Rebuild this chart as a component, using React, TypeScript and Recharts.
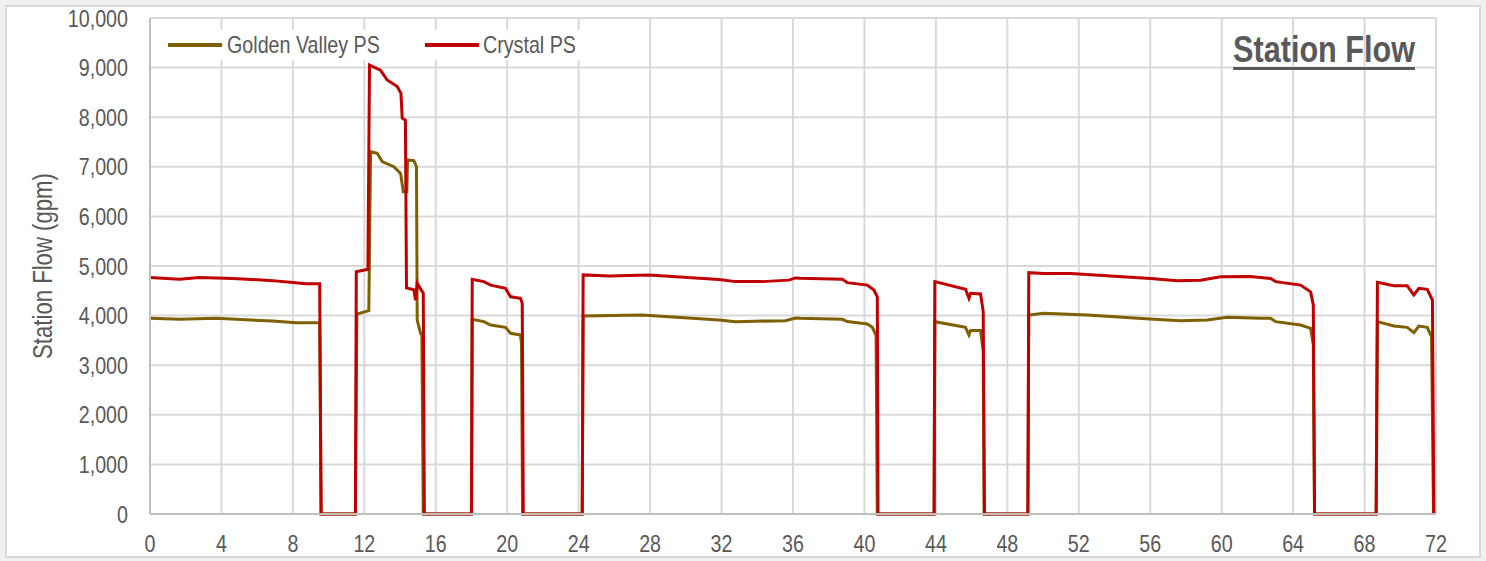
import React from "react";
import { LineChart, Line, XAxis, YAxis, CartesianGrid } from "recharts";

const xTicks = [0, 4, 8, 12, 16, 20, 24, 28, 32, 36, 40, 44, 48, 52, 56, 60, 64, 68, 72];
const yTicks = [0, 1000, 2000, 3000, 4000, 5000, 6000, 7000, 8000, 9000, 10000];

const crystalHours = [
  0, 1.65, 2.77, 4.64, 6.87, 8.0, 8.74, 9.5, 9.58, 11.5,
  11.55, 12.2, 12.29, 12.6, 12.9, 13.28, 13.84, 14.05, 14.12, 14.3, 14.36, 14.77, 14.87, 14.96, 15.3,
  15.36, 18.0,
  18.04, 18.69, 19.07, 19.9, 20.19, 20.74, 20.84,
  20.9, 24.2,
  24.25, 25.69, 27.93, 31.85, 32.78, 34.28, 35.77, 36.14, 36.4, 38.76, 39.04, 40.16, 40.53, 40.72,
  40.76, 43.9,
  43.94, 45.66, 45.85, 45.94, 46.5, 46.65,
  46.72, 49.15,
  49.2, 50.04, 51.54, 56.02, 57.51, 58.82, 59.94, 61.6, 62.74, 63.02, 64.42, 64.98, 65.13,
  65.2, 68.65,
  68.72, 69.64, 70.39, 70.76, 71.04, 71.51, 71.8,
  71.88,
];
const crystalFlow = [
  4770, 4735, 4770, 4750, 4705, 4665, 4640, 4640, 0, 0,
  4885, 4935, 9050, 9000, 8950, 8750, 8620, 8480, 7980, 7940, 4560, 4520, 4310, 4650, 4450,
  0, 0,
  4730, 4685, 4615, 4550, 4380, 4350, 4250,
  0, 0,
  4820, 4800, 4820, 4730, 4685, 4685, 4715, 4760, 4755, 4735, 4665, 4615, 4515, 4380,
  0, 0,
  4685, 4530, 4350, 4450, 4435, 4080,
  0, 0,
  4865, 4850, 4850, 4750, 4705, 4715, 4785, 4790, 4750, 4685, 4615, 4480, 4215,
  0, 0,
  4670, 4600, 4600, 4415, 4550, 4530, 4315,
  0,
];

const goldenHours = [
  0, 1.65, 3.7, 6.87, 8.18, 9.5, 9.58, 11.5,
  11.58, 12.25, 12.35, 12.72, 13.0, 13.65, 14.03, 14.18, 14.38, 14.42, 14.77, 14.92, 14.96, 15.15, 15.22,
  15.3, 18.0,
  18.04, 18.69, 19.07, 19.9, 20.19, 20.74, 20.8,
  20.86, 24.2,
  24.25, 27.56, 31.85, 32.78, 35.58, 36.14, 36.4, 38.76, 39.04, 40.16, 40.44, 40.65,
  40.72, 43.9,
  43.94, 45.66, 45.85, 45.94, 46.5, 46.65,
  46.7, 49.15,
  49.2, 50.04, 52.47, 56.2, 57.7, 59.19, 60.31, 62.18, 62.74, 63.02, 64.42, 64.98, 65.13,
  65.2, 68.65,
  68.72, 69.64, 70.39, 70.76, 71.04, 71.51, 71.75,
  71.86,
];
const goldenFlow = [
  3945, 3925, 3945, 3890, 3858, 3858, 0, 0,
  4030, 4100, 7305, 7272, 7104, 7003, 6868, 6498, 6500, 7137, 7124, 7003, 3911, 3643, 3600,
  0, 0,
  3925, 3878, 3810, 3763, 3643, 3609, 3440,
  0, 0,
  3992, 4012, 3911, 3878, 3898, 3950, 3945, 3925, 3880, 3831, 3763, 3600,
  0, 0,
  3878, 3763, 3609, 3700, 3700, 3273,
  0, 0,
  4012, 4046, 4012, 3925, 3898, 3911, 3965, 3945, 3945, 3878, 3810, 3743, 3408,
  0, 0,
  3878, 3790, 3763, 3655, 3790, 3763, 3575,
  0,
];

const crystalData = crystalHours.map((h, i) => ({ hour: h, flow: crystalFlow[i] }));
const goldenData = goldenHours.map((h, i) => ({ hour: h, flow: goldenFlow[i] }));

const FONT = "'Liberation Sans', Arial, sans-serif";
const TEXT = "#595959";
const OLIVE = "#7F6000";
const RED = "#C00000";
const SQUEEZE = 0.82;

const XTick = (props: any) => {
  const { x, y, payload } = props;
  return (
    <text
      transform={`translate(${x},${y}) scale(${SQUEEZE},1)`}
      x={0}
      y={0}
      dy="0.71em"
      textAnchor="middle"
      fill={TEXT}
      fontSize={24}
      fontFamily={FONT}
    >
      {payload.value}
    </text>
  );
};

const YTick = (props: any) => {
  const { x, y, payload } = props;
  return (
    <text
      transform={`translate(${x},${y}) scale(${SQUEEZE},1)`}
      x={0}
      y={0}
      dy="0.355em"
      textAnchor="end"
      fill={TEXT}
      fontSize={24}
      fontFamily={FONT}
    >
      {Number(payload.value).toLocaleString("en-US")}
    </text>
  );
};

export default function App() {
  return (
    <div style={{ position: "fixed", left: 0, top: 0, width: 1486, height: 561, background: "#f0f0f0", fontFamily: FONT }}>
      <div
        style={{
          position: "absolute",
          left: 5,
          top: 5,
          width: 1476,
          height: 553,
          boxSizing: "border-box",
          border: "2px solid #d9d9d9",
          background: "#ffffff",
        }}
      />
      <div style={{ position: "absolute", left: 0, top: 0 }}>
        <LineChart width={1486} height={561} margin={{ top: 18, right: 50, bottom: 17, left: 0 }}>
          <CartesianGrid stroke="#d9d9d9" strokeWidth={2} />
          <XAxis
            dataKey="hour"
            type="number"
            domain={[0, 72]}
            ticks={xTicks}
            interval={0}
            allowDuplicatedCategory={false}
            stroke="#bfbfbf"
            strokeWidth={2}
            tickLine={false}
            tickSize={6}
            tickMargin={15}
            height={30}
            tick={<XTick />}
          />
          <YAxis
            type="number"
            domain={[0, 10000]}
            ticks={yTicks}
            interval={0}
            width={150}
            stroke="#bfbfbf"
            strokeWidth={2}
            tickLine={false}
            tickSize={6}
            tickMargin={16}
            tick={<YTick />}
          />
          <Line
            data={goldenData}
            dataKey="flow"
            name="Golden Valley PS"
            type="linear"
            stroke={OLIVE}
            strokeWidth={3}
            dot={false}
            activeDot={false}
            isAnimationActive={false}
          />
          <Line
            data={crystalData}
            dataKey="flow"
            name="Crystal PS"
            type="linear"
            stroke={RED}
            strokeWidth={3}
            dot={false}
            activeDot={false}
            isAnimationActive={false}
          />
        </LineChart>
      </div>

      {/* Y axis title */}
      <div
        style={{
          position: "absolute",
          left: 43 - 150,
          top: 266 - 16,
          width: 300,
          height: 32,
          lineHeight: "32px",
          textAlign: "center",
          fontSize: 27,
          color: TEXT,
          fontFamily: FONT,
          whiteSpace: "nowrap",
          transform: `rotate(-90deg) scale(${SQUEEZE},1)`,
          transformOrigin: "50% 50%",
        }}
      >
        Station Flow (gpm)
      </div>

      {/* Legend */}
      <div
        style={{
          position: "absolute",
          left: 151,
          top: 30,
          width: 440,
          height: 30,
          background: "#ffffff",
          color: TEXT,
          fontSize: 24,
          fontFamily: FONT,
        }}
      >
        <div style={{ position: "absolute", left: 17, top: 13, width: 54, height: 4, background: OLIVE }} />
        <div
          style={{
            position: "absolute",
            left: 76,
            top: 0,
            lineHeight: "30px",
            whiteSpace: "nowrap",
            transform: `scale(${SQUEEZE},1)`,
            transformOrigin: "0 50%",
          }}
        >
          Golden Valley PS
        </div>
        <div style={{ position: "absolute", left: 274, top: 13, width: 54, height: 4, background: RED }} />
        <div
          style={{
            position: "absolute",
            left: 332,
            top: 0,
            lineHeight: "30px",
            whiteSpace: "nowrap",
            transform: `scale(${SQUEEZE},1)`,
            transformOrigin: "0 50%",
          }}
        >
          Crystal PS
        </div>
      </div>

      {/* Title */}
      <div
        style={{
          position: "absolute",
          left: 1015,
          top: 32,
          width: 400,
          textAlign: "right",
          fontSize: 36,
          lineHeight: "36px",
          fontWeight: "bold",
          color: TEXT,
          fontFamily: FONT,
          textDecoration: "underline",
          textDecorationThickness: "3px",
          textUnderlineOffset: "5px",
          whiteSpace: "nowrap",
          transform: "scale(0.85,1)",
          transformOrigin: "100% 50%",
        }}
      >
        Station Flow
      </div>
    </div>
  );
}
